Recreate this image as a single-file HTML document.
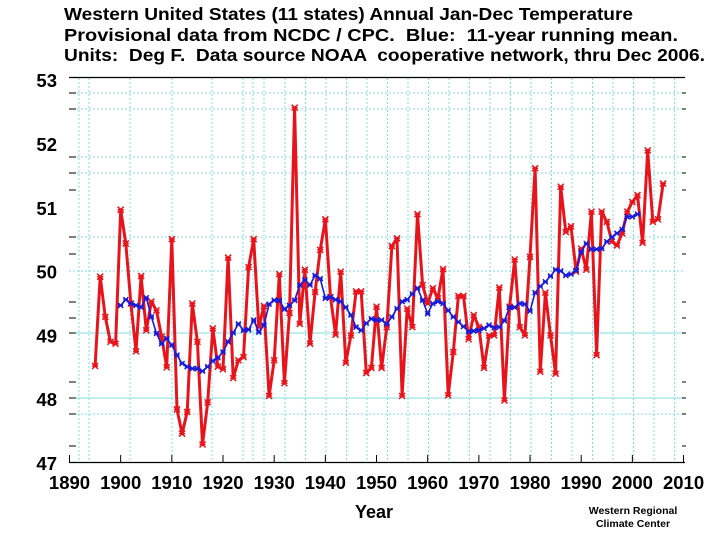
<!DOCTYPE html>
<html><head><meta charset="utf-8"><style>
html,body{margin:0;padding:0;background:#fff;}
svg{display:block;font-family:"Liberation Sans",Arial,sans-serif;}
text{white-space:pre;}
</style></head><body>
<svg id="chart" width="720" height="540" viewBox="0 0 720 540" xmlns="http://www.w3.org/2000/svg">
<g font-weight="bold" font-size="17.5" fill="#000">
<text x="64" y="20" textLength="569" lengthAdjust="spacingAndGlyphs">Western United States (11 states) Annual Jan-Dec Temperature</text>
<text x="64" y="41" textLength="614" lengthAdjust="spacingAndGlyphs">Provisional data from NCDC / CPC.  Blue:  11-year running mean.</text>
<text x="64" y="61" textLength="641" lengthAdjust="spacingAndGlyphs">Units:  Deg F.  Data source NOAA  cooperative network, thru Dec 2006.</text>
</g>
<g id="grid"></g>
<g id="axes"></g>
<g id="series"></g>
<text x="374" y="518" text-anchor="middle" font-weight="bold" font-size="18">Year</text>
<g font-weight="bold" font-size="10.5" text-anchor="middle">
<text x="633" y="514">Western Regional</text>
<text x="633" y="527">Climate Center</text>
</g>
</svg>
<script>
const xTicks=[1890,1900,1910,1920,1930,1940,1950,1960,1970,1980,1990,2000,2010];
const yTicks=[47,48,49,50,51,52,53];
const annualStart=1895;
const annualTemps=[48.52,49.92,49.29,48.90,48.87,50.97,
50.44,49.50,48.75,49.93,49.08,49.53,49.39,48.98,48.50,50.51,
47.84,47.46,47.80,49.50,48.90,47.29,47.95,49.11,48.51,48.47,
50.22,48.33,48.61,48.66,50.07,50.51,49.13,49.46,48.05,48.61,
49.96,48.25,49.35,52.57,49.18,50.03,48.87,49.68,50.34,50.82,
49.60,49.01,50.00,48.57,49.00,49.69,49.69,48.41,48.49,49.45,
48.49,49.13,50.40,50.52,48.05,49.42,49.13,50.90,49.79,49.50,
49.74,49.58,50.04,48.06,48.74,49.62,49.62,48.94,49.32,49.13,
48.49,49.00,49.00,49.75,47.98,49.45,50.19,49.13,49.00,50.23,
51.62,48.43,49.67,49.00,48.40,51.33,50.62,50.71,50.00,50.36,
50.03,50.94,48.69,50.94,50.78,50.47,50.41,50.60,50.94,51.09,
51.20,50.45,51.90,50.78,50.82,51.38];
const meanStart=1900;
const runningMean=[49.47,49.56,49.50,49.47,49.44,49.59,49.29,49.03,48.87,48.95,48.85,48.69,48.56,48.51,48.48,48.48,48.44,48.51,48.60,48.65,48.74,48.90,49.04,49.18,49.08,49.09,49.24,49.05,49.16,49.49,49.55,
49.55,49.41,49.47,49.55,49.79,49.87,49.79,49.94,49.89,49.58,
49.60,49.56,49.53,49.44,49.32,49.13,49.08,49.19,49.26,49.24,
49.24,49.18,49.29,49.42,49.53,49.56,49.65,49.74,49.55,49.34,
49.50,49.53,49.50,49.39,49.29,49.21,49.14,49.06,49.07,49.08,
49.11,49.16,49.12,49.13,49.23,49.44,49.44,49.50,49.49,49.38,49.67,49.77,49.84,49.93,50.03,50.01,49.94,49.96,50.02,50.31,50.44,50.35,50.35,50.36,50.47,50.54,50.60,50.66,50.86,50.86,50.90];

const NS='http://www.w3.org/2000/svg';
const X=yr=>69.5+(yr-1890)*5.117;
const Y=v=>463-(v-47)*63.8;
function mk(tag,parent,attrs){const e=document.createElementNS(NS,tag);for(const k in attrs)e.setAttribute(k,attrs[k]);parent.appendChild(e);return e;}

const gridG=document.getElementById('grid');
const vGrid=[79,89,130,172,212,243,253,264];
for(let p=285;p<684;p+=20.5)vGrid.push(p);
vGrid.forEach(p=>{const l=mk('line',gridG,{x1:p,x2:p,y1:78,y2:462,stroke:'#7fdede','stroke-width':1,'stroke-dasharray':'2,2'});

});
[93,109,157,173,237,271,333,398,414].forEach(p=>{const l=mk('line',gridG,{x1:69,x2:684,y1:p,y2:p,stroke:'#7fdede','stroke-width':1,'stroke-dasharray':(p==333||p==398)?'none':'2,2'});

});

const axesG=document.getElementById('axes');
const topFrame=mk('line',axesG,{x1:69,x2:685,y1:77.5,y2:77.5,stroke:'#000','stroke-width':1.3});


const botFrame=mk('line',axesG,{x1:69,x2:685,y1:462.5,y2:462.5,stroke:'#000','stroke-width':1.3});


[93,109,157,173,190,237,254,302,318,333,382,398,414,446].forEach(p=>{
 const t=mk('line',axesG,{x1:69,x2:76,y1:p,y2:p,stroke:'#000','stroke-width':1});
 
 
 const r=mk('line',axesG,{x1:682,x2:686,y1:p,y2:p,stroke:'#000','stroke-width':1});
 
 
});
xTicks.forEach(t=>{
 const tx=mk('text',axesG,{x:X(t),y:489,'text-anchor':'middle','font-weight':'bold','font-size':18.5});
 tx.textContent=t;
 
 
 const tk=mk('line',axesG,{x1:X(t),x2:X(t),y1:455,y2:462,stroke:'#000','stroke-width':1});
 
 
});
yTicks.forEach(v=>{
 const tx=mk('text',axesG,{x:57,y:Y(v)+7,'text-anchor':'end','font-weight':'bold','font-size':18.5});
 tx.textContent=v;
 
 
});

const seriesG=document.getElementById('series');
function drawSeries(vals,start,color,w,name,ms){
 const pts=vals.map((v,i)=>X(start+i).toFixed(1)+','+Y(v).toFixed(1)).join(' ');
 const pl=mk('polyline',seriesG,{points:pts,fill:'none',stroke:color,'stroke-width':w,'stroke-linejoin':'round'});
 
 
 vals.forEach((v,i)=>{const cx=X(start+i),cy=Y(v);
  const m=mk('path',seriesG,{d:`M${cx-ms},${cy-ms}L${cx+ms},${cy+ms}M${cx-ms},${cy+ms}L${cx+ms},${cy-ms}M${cx-ms},${cy}L${cx+ms},${cy}`,stroke:color,'stroke-width':1.5,fill:'none'});
  
  
 });
}
drawSeries(annualTemps,annualStart,'#e8141c',3,'annual-temperature',3);
drawSeries(runningMean,meanStart,'#1a1ad8',1.6,'running-mean',2.5);
</script>
</body></html>
